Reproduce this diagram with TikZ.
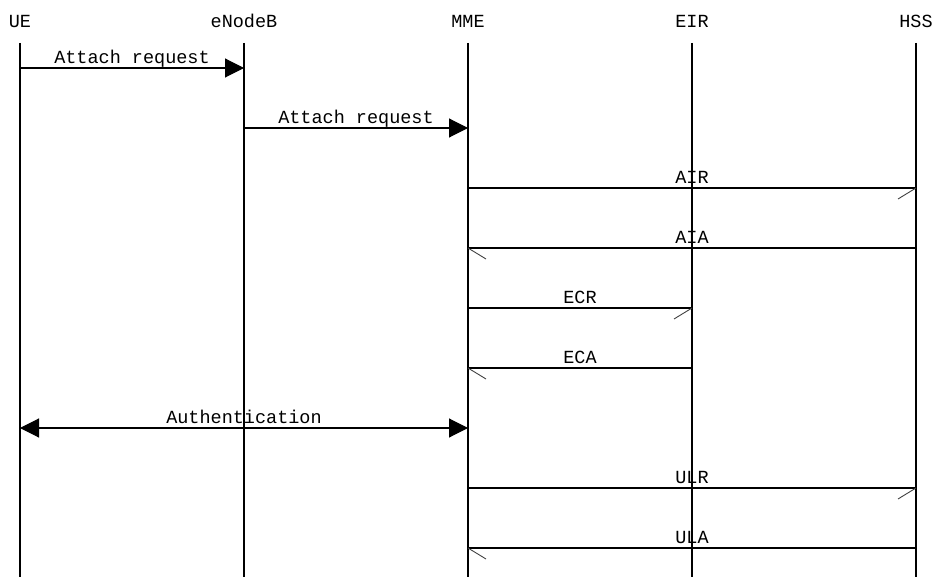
\documentclass[tikz,border=0pt]{standalone}
\usepackage{fontspec}
\setmonofont{Liberation Mono}
\usetikzlibrary{arrows.meta}
\tikzset{
  entity/.style={font=\ttfamily\fontsize{18.5}{18.5}\selectfont, anchor=base, inner sep=0pt},
  msg/.style={font=\ttfamily\fontsize{18.5}{18.5}\selectfont, anchor=base, inner sep=0pt, yshift=4.5pt},
  life/.style={line width=1.1pt},
  call/.style={line width=1.1pt, -{Triangle[length=19pt,width=19pt]}},
  both/.style={line width=1.1pt, {Triangle[length=19pt,width=19pt]}-{Triangle[length=19pt,width=19pt]}},
  plain/.style={line width=1.1pt},
  barb/.style={line width=0.9pt, black!75},
}

\begin{document}
\begin{tikzpicture}[x=1pt,y=-1pt]
  \useasboundingbox (0,0) rectangle (936,577);
  % entities and lifelines
  \foreach \n/\t/\x in {ue/UE/20, enb/eNodeB/244, mme/MME/468, eir/EIR/692, hss/HSS/916} {
    \node[entity] (\n) at (\x,28) {\t};
    \coordinate (\n top) at (\x,43);
    \coordinate (\n end) at (\x,577);
    \draw[life] (\n top) -- (\n end);
  }
  % messages
  \draw[call] (ue |- 0,68) -- node[msg] {Attach request} (enb |- 0,68);
  \draw[call] (enb |- 0,128) -- node[msg] {Attach request} (mme |- 0,128);
  \draw[plain] (mme |- 0,188) -- node[msg] {AIR} (hss |- 0,188);
  \draw[barb] (hss |- 0,188) -- ++(-18,11);
  \draw[plain] (hss |- 0,248) -- node[msg] {AIA} (mme |- 0,248);
  \draw[barb] (mme |- 0,248) -- ++(18,11);
  \draw[plain] (mme |- 0,308) -- node[msg] {ECR} (eir |- 0,308);
  \draw[barb] (eir |- 0,308) -- ++(-18,11);
  \draw[plain] (eir |- 0,368) -- node[msg] {ECA} (mme |- 0,368);
  \draw[barb] (mme |- 0,368) -- ++(18,11);
  \draw[both] (ue |- 0,428) -- node[msg] {Authentication} (mme |- 0,428);
  \draw[plain] (mme |- 0,488) -- node[msg] {ULR} (hss |- 0,488);
  \draw[barb] (hss |- 0,488) -- ++(-18,11);
  \draw[plain] (hss |- 0,548) -- node[msg] {ULA} (mme |- 0,548);
  \draw[barb] (mme |- 0,548) -- ++(18,11);
\end{tikzpicture}
\end{document}
